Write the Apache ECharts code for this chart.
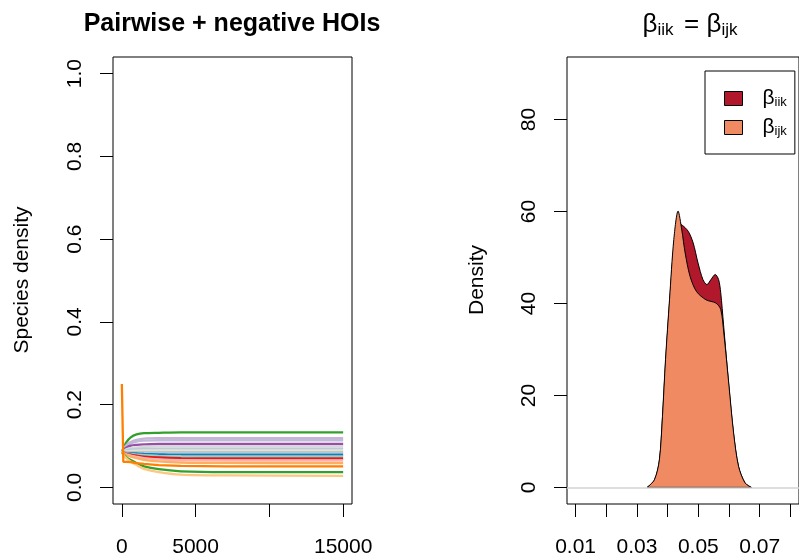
<!DOCTYPE html>
<html>
<head>
<meta charset="utf-8">
<script src="https://cdn.jsdelivr.net/npm/echarts@6/dist/echarts.min.js"></script>
<style>
html,body{margin:0;padding:0;background:#fff;}
#chart{width:799px;height:559px;}
</style>
</head>
<body>
<div id="chart"></div>
<script>
// ---- Left panel: species densities through time ----
const times = [0, 100, 300, 600, 1000, 1500, 2500, 4000, 7000, 15000];
const sp01 = [0.085, 0.095, 0.109, 0.121, 0.128, 0.131, 0.132, 0.133, 0.133, 0.133];
const sp02 = [0.085, 0.092, 0.102, 0.110, 0.115, 0.118, 0.119, 0.119, 0.119, 0.119];
const sp03 = [0.085, 0.091, 0.099, 0.106, 0.111, 0.113, 0.114, 0.114, 0.114, 0.114];
const sp04 = [0.085, 0.090, 0.096, 0.101, 0.103, 0.104, 0.105, 0.105, 0.105, 0.105];
const sp05 = [0.085, 0.088, 0.092, 0.095, 0.097, 0.098, 0.099, 0.099, 0.099, 0.099];
const sp06 = [0.085, 0.087, 0.089, 0.092, 0.093, 0.094, 0.094, 0.094, 0.094, 0.094];
const sp07 = [0.085, 0.086, 0.087, 0.088, 0.089, 0.089, 0.089, 0.089, 0.089, 0.089];
const sp08 = [0.085, 0.085, 0.085, 0.085, 0.085, 0.085, 0.085, 0.085, 0.085, 0.085];
const sp09 = [0.085, 0.084, 0.083, 0.083, 0.082, 0.081, 0.080, 0.079, 0.079, 0.079];
const sp10 = [0.085, 0.084, 0.0825, 0.081, 0.0795, 0.078, 0.0765, 0.0755, 0.075, 0.075];
const sp11 = [0.085, 0.0835, 0.0813, 0.079, 0.0768, 0.0745, 0.0723, 0.0708, 0.070, 0.070];
const sp12 = [0.085, 0.083, 0.080, 0.077, 0.074, 0.071, 0.068, 0.066, 0.065, 0.065];
const sp13 = [0.085, 0.0824, 0.0785, 0.0746, 0.0707, 0.0668, 0.0629, 0.0603, 0.0593, 0.059];
const sp14 = [0.25, 0.062, 0.062, 0.061, 0.059, 0.057, 0.054, 0.052, 0.051, 0.051];
const sp15 = [0.085, 0.080, 0.073, 0.066, 0.059, 0.051, 0.044, 0.039, 0.037, 0.037];
const sp16 = [0.085, 0.079, 0.071, 0.062, 0.054, 0.045, 0.037, 0.031, 0.029, 0.028];
const speciesValues = [sp01, sp02, sp03, sp04, sp05, sp06, sp07, sp08, sp09, sp10, sp11, sp12, sp13, sp14, sp15, sp16];
const speciesColors = ['#33A02C', '#CAB2D6', '#BEBADA', '#984EA3', '#D9D9D9', '#B3CDE3', '#FDDAB0', '#A6CEE3',
                       '#1F78B4', '#8DD3C7', '#E31A1C', '#FBB4AE', '#FDAE61', '#FF7F00', '#33A02C', '#FDC77F'];
const leftXTicks = [0, 5000, 10000, 15000];
const leftXLabels = [0, 5000, 15000];
const leftYTicks = [0, 0.2, 0.4, 0.6, 0.8, 1.0];

// ---- Right panel: density of beta values ----
const iikX = [0.0333, 0.0357, 0.0373, 0.0383, 0.0393, 0.0406, 0.0420, 0.0434, 0.0448, 0.0467, 0.0483, 0.0499,
              0.0515, 0.0528, 0.0541, 0.0555, 0.0566, 0.0573, 0.0582, 0.0599, 0.0615, 0.0631, 0.0652, 0.0673];
const iikY = [0, 1.6, 5.8, 15, 27, 40, 52, 57.5, 57, 55.7, 53.2, 48.8,
              45.2, 44.1, 45.2, 46.3, 45.2, 42.3, 35.5, 22.3, 11.5, 4.5, 1, 0];
const ijkX = [0.0333, 0.0357, 0.0373, 0.0383, 0.0393, 0.0406, 0.0420, 0.0434, 0.0446, 0.0457, 0.0473,
              0.0494, 0.0525, 0.0557, 0.0573, 0.0583, 0.0599, 0.0615, 0.0631, 0.0652, 0.0673];
const ijkY = [0, 1.7, 6, 15.4, 27.8, 40.8, 53.9, 60.1, 56, 51, 45.9,
              42.6, 40.8, 40.1, 38.7, 33.6, 22.7, 11.8, 4.6, 1, 0];
const rightXTicks = [0.01, 0.02, 0.03, 0.04, 0.05, 0.06, 0.07, 0.08];
const rightXLabels = [0.01, 0.03, 0.05, 0.07];
const rightYTicks = [0, 20, 40, 60, 80];

const FONT = '"Liberation Sans", Arial, Helvetica, sans-serif';
const tickStyle = {show: true, inside: false, length: 13, lineStyle: {color: '#000', width: 1}};
const labelBase = {color: '#000', fontFamily: FONT, fontSize: 21};
const noLine = {show: false, onZero: false};

const pairs = (xs, ys) => xs.map((x, i) => [x, ys[i]]);

const series = [];
speciesValues.forEach((vals, i) => {
  series.push({
    type: 'line', xAxisIndex: 0, yAxisIndex: 0, showSymbol: false, silent: true,
    smooth: i === 13 ? false : 0.3,
    data: pairs(times, vals),
    lineStyle: {color: speciesColors[i], width: 2.3},
    itemStyle: {color: speciesColors[i]},
    z: i === 13 ? 3 : 2
  });
});

series.push({
  name: 'iik', type: 'line', xAxisIndex: 1, yAxisIndex: 1, showSymbol: false, silent: true, smooth: 0.3,
  data: pairs(iikX, iikY),
  itemStyle: {color: '#B2182B'},
  lineStyle: {color: '#000', width: 1},
  areaStyle: {color: '#B2182B', opacity: 1, origin: 0},
  markLine: {silent: true, symbol: 'none', label: {show: false},
             lineStyle: {color: '#d3d3d3', width: 1.5, type: 'solid'}, data: [{yAxis: 0}]},
  z: 2
});
series.push({
  name: 'ijk', type: 'line', xAxisIndex: 1, yAxisIndex: 1, showSymbol: false, silent: true, smooth: 0.3,
  data: pairs(ijkX, ijkY),
  itemStyle: {color: '#EF8A62'},
  lineStyle: {color: '#000', width: 1},
  areaStyle: {color: '#EF8A62', opacity: 1, origin: 0},
  z: 3
});
// bottom edges of the density polygons
series.push({
  type: 'line', xAxisIndex: 1, yAxisIndex: 1, showSymbol: false, silent: true,
  data: [[iikX[0], 0], [iikX[iikX.length - 1], 0]],
  lineStyle: {color: '#000', width: 1}, z: 4
});
series.push({
  type: 'line', xAxisIndex: 1, yAxisIndex: 1, showSymbol: false, silent: true,
  data: [[ijkX[0], 0], [ijkX[ijkX.length - 1], 0]],
  lineStyle: {color: '#000', width: 1}, z: 4
});

const option = {
  animation: false,
  backgroundColor: '#fff',
  grid: [
    {left: 113, top: 57, width: 239, height: 447, show: true, borderColor: '#000', borderWidth: 1, backgroundColor: 'transparent'},
    {left: 567, top: 57, width: 239, height: 447, show: true, borderColor: '#000', borderWidth: 1, backgroundColor: 'transparent'}
  ],
  xAxis: [
    {type: 'value', gridIndex: 0, min: -600, max: 15600, splitLine: {show: false},
     axisLine: noLine,
     axisTick: Object.assign({}, tickStyle, {customValues: leftXTicks}),
     axisLabel: Object.assign({}, labelBase, {customValues: leftXLabels, margin: 33, formatter: v => String(v)})},
    {type: 'value', gridIndex: 1, min: 0.0072, max: 0.0828, splitLine: {show: false},
     axisLine: noLine,
     axisTick: Object.assign({}, tickStyle, {customValues: rightXTicks}),
     axisLabel: Object.assign({}, labelBase, {customValues: rightXLabels, margin: 33, formatter: v => v.toFixed(2)})}
  ],
  yAxis: [
    {type: 'value', gridIndex: 0, min: -0.04, max: 1.04, splitLine: {show: false},
     axisLine: noLine,
     axisTick: Object.assign({}, tickStyle, {customValues: leftYTicks}),
     axisLabel: Object.assign({}, labelBase, {customValues: leftYTicks, rotate: 90, margin: 27, formatter: v => v.toFixed(1)})},
    {type: 'value', gridIndex: 1, min: -3.6, max: 93.6, splitLine: {show: false},
     axisLine: noLine,
     axisTick: Object.assign({}, tickStyle, {customValues: rightYTicks}),
     axisLabel: Object.assign({}, labelBase, {customValues: rightYTicks, rotate: 90, margin: 27, formatter: v => String(v)})}
  ],
  legend: {
    show: true, orient: 'vertical', left: 705, top: 71, width: 92,
    padding: [17, 8, 16, 19], itemGap: 8, itemWidth: 18, itemHeight: 14,
    borderColor: '#000', borderWidth: 1, backgroundColor: '#fff',
    icon: 'rect', selectedMode: false,
    data: [
      {name: 'iik', icon: 'rect', itemStyle: {color: '#B2182B', borderColor: '#000', borderWidth: 1}},
      {name: 'ijk', icon: 'rect', itemStyle: {color: '#EF8A62', borderColor: '#000', borderWidth: 1}}
    ],
    formatter: name => '{b|β}{s|' + name + '}',
    textStyle: {
      color: '#000', fontFamily: FONT, fontSize: 20,
      rich: {
        b: {fontFamily: FONT, fontSize: 21, lineHeight: 20, padding: [0, 0, 0, 15], color: '#000'},
        s: {fontFamily: FONT, fontSize: 13, lineHeight: 20, verticalAlign: 'bottom', color: '#000'}
      }
    }
  },
  graphic: [
    {type: 'text', x: 232, y: 24, silent: true,
     style: {text: 'Pairwise + negative HOIs', font: 'bold 25px ' + FONT, fill: '#000', align: 'center', verticalAlign: 'middle'}},
    {type: 'text', x: 690, y: 25, silent: true,
     style: {text: '{b|β}{s|iik} {b| = β}{s|ijk}', fill: '#000', align: 'center', verticalAlign: 'middle',
             rich: {
               b: {fontFamily: FONT, fontSize: 26, lineHeight: 28, fill: '#000'},
               s: {fontFamily: FONT, fontSize: 17, lineHeight: 28, verticalAlign: 'bottom', fill: '#000'}
             }}},
    {type: 'text', x: 22, y: 280, rotation: Math.PI / 2, silent: true,
     style: {text: 'Species density', font: '21px ' + FONT, fill: '#000', align: 'center', verticalAlign: 'middle'}},
    {type: 'text', x: 477, y: 280, rotation: Math.PI / 2, silent: true,
     style: {text: 'Density', font: '21px ' + FONT, fill: '#000', align: 'center', verticalAlign: 'middle'}}
  ],
  series: series
};

const chart = echarts.init(document.getElementById('chart'), null, {renderer: 'canvas'});
chart.setOption(option);
</script>
</body>
</html>
